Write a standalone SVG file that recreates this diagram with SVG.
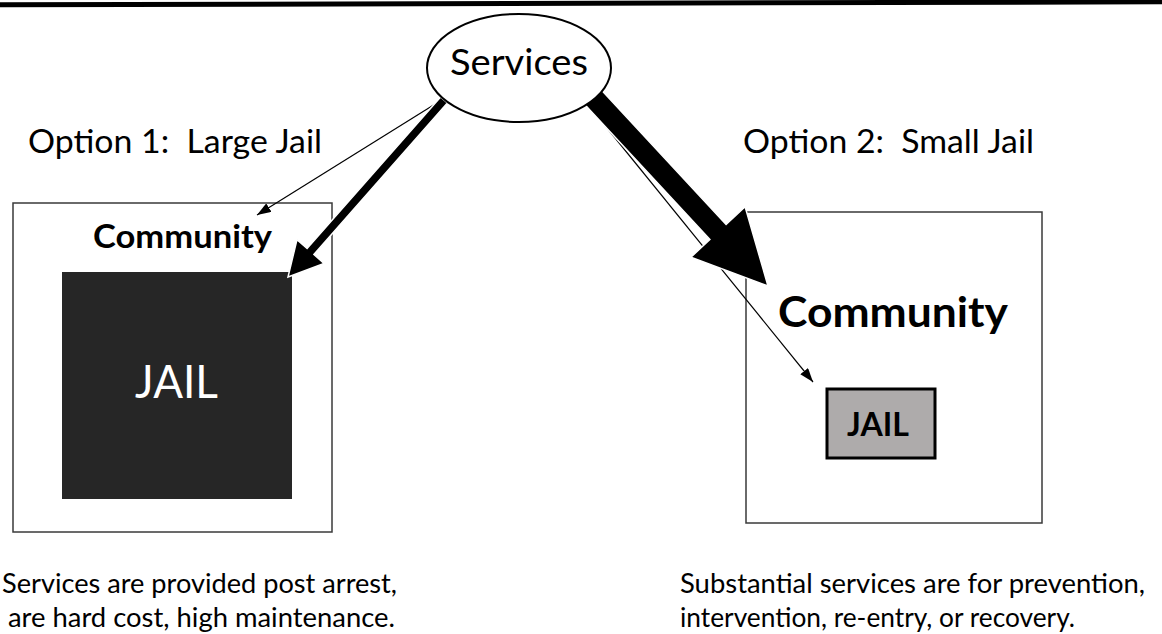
<svg xmlns="http://www.w3.org/2000/svg" width="1162" height="634" viewBox="0 0 1162 634">
  <style>
    .t { font-family: Lato, "Liberation Sans", Arial, sans-serif; fill: #000; white-space: pre; }
    .b { font-weight: bold; }
    .box { fill: #fff; stroke: #3a3a3a; stroke-width: 1.5; }
    .thin { stroke: #000; stroke-width: 1.2; fill: none; }
    .thick { fill: #000; stroke: #fff; stroke-width: 1.5; stroke-linejoin: miter; }
  </style>
  <defs>
    <marker id="thinHead" viewBox="0 0 14 10" refX="14" refY="5" markerWidth="14" markerHeight="10" markerUnits="userSpaceOnUse" orient="auto">
      <path d="M0,0 L14,5 L0,10 z" fill="#000"/>
    </marker>
  </defs>
  <rect x="0" y="0" width="1162" height="634" fill="#fff"/>

  <g id="topbar">
    <line x1="0" y1="4.8" x2="1162" y2="1.8" stroke="#000" stroke-width="5"/>
  </g>

  <g id="label-option1">
    <text class="t" x="28" y="153" font-size="33" textLength="294" lengthAdjust="spacingAndGlyphs">Option 1:  Large Jail</text>
  </g>
  <g id="label-option2">
    <text class="t" x="743" y="153" font-size="33" textLength="291" lengthAdjust="spacingAndGlyphs">Option 2:  Small Jail</text>
  </g>

  <g id="community-large">
    <rect class="box" x="13" y="203" width="319" height="329"/>
    <text class="t b" x="93" y="248" font-size="32" textLength="179" lengthAdjust="spacingAndGlyphs">Community</text>
  </g>
  <g id="jail-large">
    <rect x="62" y="272" width="230" height="227" fill="#262626"/>
    <text class="t" x="135" y="398" font-size="46" textLength="83" lengthAdjust="spacingAndGlyphs" style="fill:#fff">JAIL</text>
  </g>

  <g id="community-small">
    <rect class="box" x="746" y="212" width="296" height="311"/>
    <text class="t b" x="778" y="327" font-size="42" textLength="230" lengthAdjust="spacingAndGlyphs">Community</text>
  </g>
  <g id="jail-small">
    <rect x="827" y="389" width="108" height="69" fill="#aeabab" stroke="#000" stroke-width="3"/>
    <text class="t b" x="847" y="436" font-size="33" textLength="62" lengthAdjust="spacingAndGlyphs">JAIL</text>
  </g>

  <g id="connectors">
    <line class="thin" x1="440" y1="101" x2="257" y2="215" marker-end="url(#thinHead)"/>
    <line class="thin" x1="590" y1="107" x2="813" y2="382" marker-end="url(#thinHead)"/>
    <polygon class="thick" points="440.6,97 307.1,248.5 297,239.6 288,277 324,263.4 313.9,254.5 447.4,103"/>
    <polygon class="thick" points="599.1,87.5 726.1,224.5 745.1,206.8 768,286 690.9,257.2 709.9,239.5 582.9,102.5"/>
  </g>

  <g id="services">
    <ellipse cx="519" cy="68" rx="92" ry="54" fill="#fff" stroke="#000" stroke-width="2"/>
    <text class="t" x="450" y="75" font-size="37.5" textLength="138" lengthAdjust="spacingAndGlyphs">Services</text>
  </g>

  <g id="caption-left">
    <text class="t" x="2" y="593" font-size="26.4" textLength="395" lengthAdjust="spacingAndGlyphs">Services are provided post arrest,</text>
    <text class="t" x="8" y="627" font-size="26.4" textLength="387" lengthAdjust="spacingAndGlyphs">are hard cost, high maintenance.</text>
  </g>
  <g id="caption-right">
    <text class="t" x="680" y="593" font-size="26.4" textLength="465" lengthAdjust="spacingAndGlyphs">Substantial services are for prevention,</text>
    <text class="t" x="680" y="627" font-size="26.4" textLength="395" lengthAdjust="spacingAndGlyphs">intervention, re-entry, or recovery.</text>
  </g>
</svg>
